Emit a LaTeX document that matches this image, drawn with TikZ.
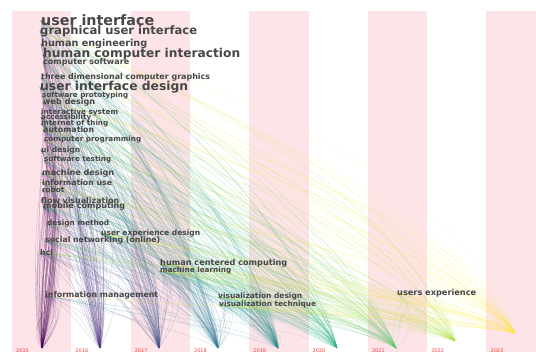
\documentclass[tikz,border=0pt]{standalone}
\usepackage{fontspec}
\setmainfont{DejaVu Sans}
\usepackage{graphicx}
\usetikzlibrary{calc}

\definecolor{bandpink}{RGB}{253,228,233}
\definecolor{kwgray}{RGB}{70,70,70}
\definecolor{v0}{HTML}{440154}
\definecolor{v1}{HTML}{472C7A}
\definecolor{v2}{HTML}{3B518B}
\definecolor{v3}{HTML}{2C718E}
\definecolor{v4}{HTML}{21908D}
\definecolor{v5}{HTML}{27AD81}
\definecolor{v6}{HTML}{5CC863}
\definecolor{v7}{HTML}{AADC32}
\definecolor{v8}{HTML}{FDE725}

\pgfdeclarelayer{bands}
\pgfdeclarelayer{links}
\pgfsetlayers{bands,links,main}

\tikzset{
  kw/.style={anchor=base west, inner sep=0pt, text=kwgray, font=\bfseries},
  link/.style={line width=0.3pt, draw opacity=0.25},
  year/.style={anchor=north west, inner sep=0pt, text=red!75, font=\fontsize{5}{5}\selectfont}
}

\newcommand{\kwtext}[2]{\resizebox{#1pt}{!}{#2}}

\pgfmathdeclarerandomlist{early}{{ui}{gui}{he}{hcint}{cs}{tdcg}{uid}{sp}{wd}{is}{acc}{iot}{aut}{cp}{uides}{st}{md}{iu}{rob}{fv}{mc}{dm}{sn}{hci}{im}}

\begin{document}
\begin{tikzpicture}[x=1pt,y=-1pt]
\useasboundingbox (0,0) rectangle (536,352);

% year bands
\begin{pgfonlayer}{bands}
\foreach \i in {0,2,4,6,8}
  \fill[bandpink] (12+59.3*\i,11) rectangle ++(59.3,341);
\end{pgfonlayer}

% one focus per year
\coordinate (f0) at (42,348);
\coordinate (f1) at (100,348);
\coordinate (f2) at (159,348);
\coordinate (f3) at (218,348);
\coordinate (f4) at (278,348);
\coordinate (f5) at (337,348);
\coordinate (f6) at (396,348);
\coordinate (f7) at (455,341);
\coordinate (f8) at (515,333);

% keywords
\node (ui) [kw] at (41,26) {\kwtext{113}{user interface}};
\node (gui) [kw] at (40,34.5) {\kwtext{157}{graphical user interface}};
\node (he) [kw] at (41,46.5) {\kwtext{106}{human engineering}};
\node (hcint) [kw] at (43,57.5) {\kwtext{197}{human computer interaction}};
\node (cs) [kw] at (43,65) {\kwtext{86}{computer software}};
\node (tdcg) [kw] at (41,80) {\kwtext{169}{three dimensional computer graphics}};
\node (uid) [kw] at (40,91) {\kwtext{148}{user interface design}};
\node (sp) [kw] at (42,97.7) {\kwtext{86}{software prototyping}};
\node (wd) [kw] at (43,104.3) {\kwtext{52}{web design}};
\node (is) [kw] at (41,115) {\kwtext{77}{interactive system}};
\node (acc) [kw] at (41,119.3) {\kwtext{50}{accessibility}};
\node (iot) [kw] at (41,126) {\kwtext{67}{internet of thing}};
\node (aut) [kw] at (43,132.7) {\kwtext{51}{automation}};
\node (cp) [kw] at (44,142) {\kwtext{97}{computer programming}};
\node (uides) [kw] at (41,152.7) {\kwtext{39}{ui design}};
\node (st) [kw] at (44,162) {\kwtext{67}{software testing}};
\node (md) [kw] at (42,175.3) {\kwtext{72}{machine design}};
\node (iu) [kw] at (42,185.3) {\kwtext{70}{information use}};
\node (rob) [kw] at (42,192.3) {\kwtext{22}{robot}};
\node (fv) [kw] at (41,203.3) {\kwtext{78}{flow visualization}};
\node (mc) [kw] at (43,209) {\kwtext{82}{mobile computing}};
\node (dm) [kw] at (47,226) {\kwtext{62}{design method}};
\node (ued) [kw] at (101,235.7) {\kwtext{99}{user experience design}};
\node (sn) [kw] at (45,242.7) {\kwtext{115}{social networking (online)}};
\node (hci) [kw] at (40,255.3) {\kwtext{13}{hci}};
\node (hcc) [kw] at (160,266) {\kwtext{127}{human centered computing}};
\node (ml) [kw] at (160,273) {\kwtext{71}{machine learning}};
\node (im) [kw] at (45,298) {\kwtext{113}{information management}};
\node (vd) [kw] at (218,299) {\kwtext{84}{visualization design}};
\node (vt) [kw] at (219,306.7) {\kwtext{97}{visualization technique}};
\node (ue) [kw] at (397,295.3) {\kwtext{79}{users experience}};

% year labels
\foreach \i/\yr in {0/2015,1/2016,2/2017,3/2018,4/2019,5/2020,6/2021,7/2022,8/2023}
  \node (yr\i) [year] at (16+59.3*\i,349) {\yr};

% links keyword -> year
\begin{pgfonlayer}{links}
\pgfmathsetseed{12}
\foreach \j/\m in {0/75,1/75,2/65,3/60,4/55,5/45,6/35,7/30,8/30}
  \foreach \k in {1,...,\m} {
    \pgfmathrandomitem{\s}{early}
    \draw[link,v\j] let \p1=(\s.west), \p2=(f\j),
      \n1={0.3*(\x2-\x1)+(5+25*rnd)*1pt},
      \n2={(0.08+0.25*rnd)*(\y1-\y2)},
      \n3={-0.15*(\x2-\x1)+(-22+48*rnd)*1pt},
      \n4={(0.25+0.3*rnd)*(\y1-\y2)} in
      (\p1) .. controls (\x1+\n1,\y1-\n2) and (\x2+\n3,\y2+\n4) .. (\p2);
  }
\foreach \s/\a in {ued/1,hcc/2,ml/2,vd/3,vt/3,ue/6}
  \foreach \j in {\a,...,8}
    \foreach \k in {1,...,4} {
      \draw[link,v\j] let \p1=(\s.west), \p2=(f\j),
        \n1={0.3*(\x2-\x1)+(5+25*rnd)*1pt},
        \n2={(0.08+0.25*rnd)*(\y1-\y2)},
        \n3={-0.15*(\x2-\x1)+(-22+48*rnd)*1pt},
        \n4={(0.25+0.3*rnd)*(\y1-\y2)} in
        (\p1) .. controls (\x1+\n1,\y1-\n2) and (\x2+\n3,\y2+\n4) .. (\p2);
    }
\end{pgfonlayer}
\end{tikzpicture}
\end{document}
